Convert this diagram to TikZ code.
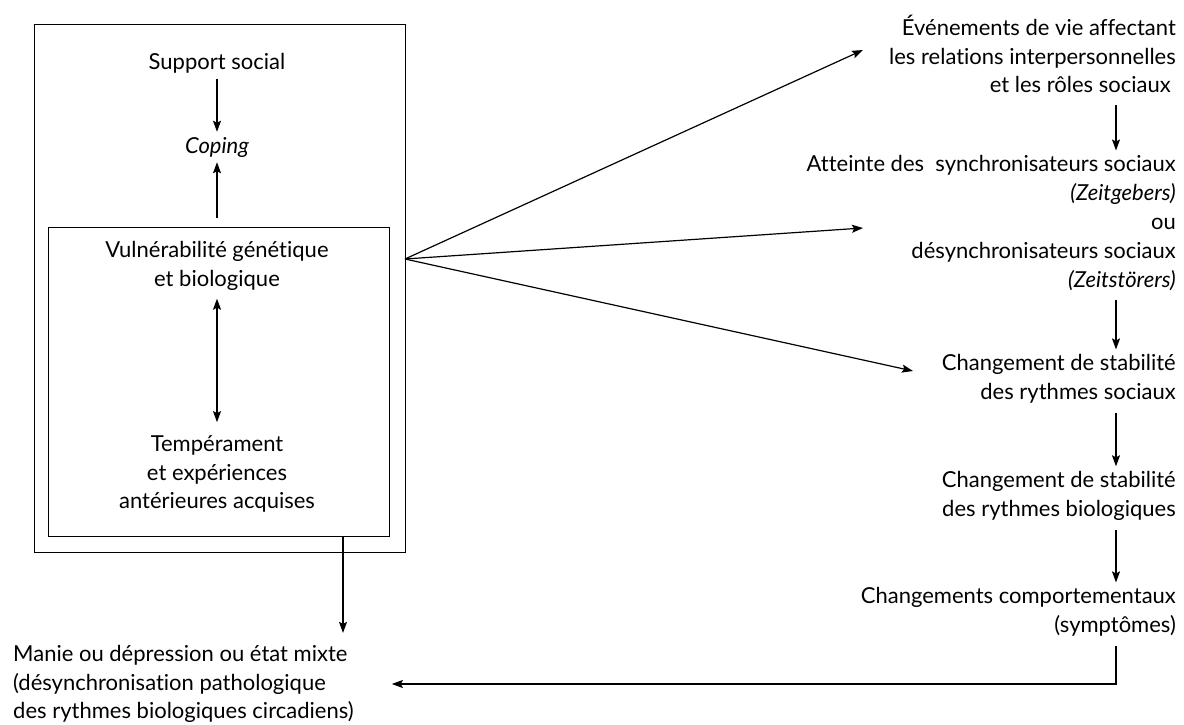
\documentclass[tikz,border=0pt]{standalone}
\usepackage{fontspec}
\setmainfont{Lato}[Ligatures=NoCommon]
\usetikzlibrary{arrows.meta}
\begin{document}
\begin{tikzpicture}[x=1pt,y=-1pt,
  txt/.style={font=\fontsize{22}{28.8}\selectfont, inner sep=0pt},
  lc/.style={txt, align=center},
  rc/.style={txt, align=right, anchor=east},
  arr/.style={line width=1.2pt, -{Stealth[length=11pt,width=8pt,inset=2pt]}},
  darr/.style={line width=1.2pt, {Stealth[length=11pt,width=8pt,inset=2pt]}-{Stealth[length=11pt,width=8pt,inset=2pt]}},
  box/.style={draw, line width=1.2pt, inner sep=0pt, anchor=north west}]
\useasboundingbox (0,0) rectangle (1184,725);
\node[box, minimum width=371pt, minimum height=528pt] (outer) at (34,24) {};
\node[box, minimum width=341pt, minimum height=309pt] (inner) at (48,227) {};
\node[lc] (sup) at (217,63) {Support social};
\node[lc] (cop) at (217,147) {\itshape Coping};
\node[lc] (vul) at (217,266) {Vulnérabilité génétique\\et biologique};
\node[lc] (tem) at (217,474) {Tempérament\\et expériences\\antérieures acquises};
\node[txt, align=left, anchor=west] (man) at (13,684) {Manie ou dépression ou état mixte\\(désynchronisation pathologique\\des rythmes biologiques circadiens)};
\node[rc] (evt) at (1176,54) {Événements de vie affectant\\les relations interpersonnelles\\et les rôles sociaux\hspace*{5pt}};
\node[rc] (att) at (1176,223) {Atteinte des\ \ synchronisateurs sociaux\\\textit{(Zeitgebers)}\\ou\\désynchronisateurs sociaux\\\textit{(Zeitstörers)}};
\node[rc] (cs) at (1176,379) {Changement de stabilité\\des rythmes sociaux};
\node[rc] (cb) at (1176,496) {Changement de stabilité\\des rythmes biologiques};
\node[rc] (cc) at (1176,612) {Changements comportementaux\\(symptômes)};
\coordinate (ax) at (1116,0);
\coordinate (mx) at (343,0);
\coordinate (src) at (405,259);
\coordinate (t1) at (863,50);
\coordinate (t2) at (863,228);
\coordinate (t3) at (913,371);
\draw[arr, shorten <=6pt, shorten >=5pt] (sup) -- (cop);
\draw[arr, shorten <=9pt, shorten >=5pt] (inner.north -| cop) -- (cop);
\draw[darr, shorten <=8pt, shorten >=13pt] (vul) -- (tem);
\draw[arr, shorten >=12pt] (inner.south -| mx) -- (man.north -| mx);
\draw[arr] (src) -- (t1);
\draw[arr] (src) -- (t2);
\draw[arr] (src) -- (t3);
\draw[arr, shorten <=12pt, shorten >=5pt] (evt.south -| ax) -- (att.north -| ax);
\draw[arr, shorten <=9pt, shorten >=5pt] (att.south -| ax) -- (cs.north -| ax);
\draw[arr, shorten <=9pt, shorten >=5pt] (cs.south -| ax) -- (cb.north -| ax);
\draw[arr, shorten <=9pt, shorten >=5pt] (cb.south -| ax) -- (cc.north -| ax);
\draw[arr, shorten <=9pt, shorten >=38pt] (cc.south -| ax) |- (man.east);
\end{tikzpicture}
\end{document}
